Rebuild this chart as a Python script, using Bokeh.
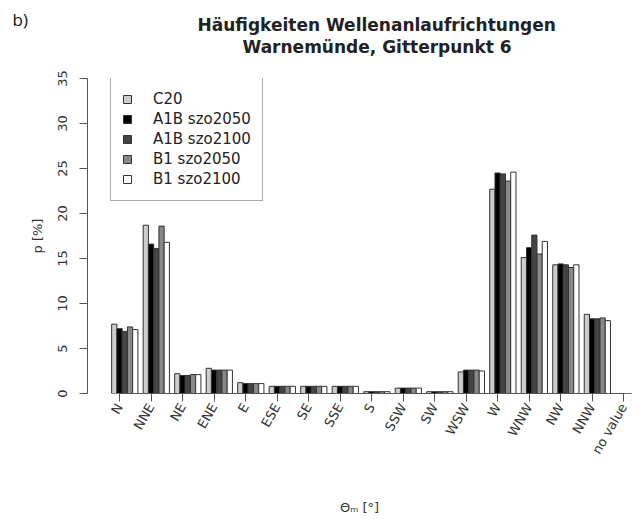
import math
from bokeh.plotting import figure
from bokeh.models import Range1d, FixedTicker, Legend, LegendItem, Title
from bokeh.embed import file_html
from bokeh.resources import INLINE

directions = ["N", "NNE", "NE", "ENE", "E", "ESE", "SE", "SSE", "S", "SSW",
              "SW", "WSW", "W", "WNW", "NW", "NNW", "no value"]
series_names = ["C20", "A1B szo2050", "A1B szo2100", "B1 szo2050", "B1 szo2100"]
c20 = [7.7, 18.7, 2.2, 2.8, 1.2, 0.8, 0.8, 0.8, 0.2, 0.6, 0.2, 2.4, 22.7, 15.1, 14.3, 8.8, 0]
a1b_2050 = [7.2, 16.6, 2.0, 2.6, 1.1, 0.8, 0.8, 0.8, 0.2, 0.6, 0.2, 2.6, 24.5, 16.2, 14.4, 8.3, 0]
a1b_2100 = [6.9, 16.1, 2.0, 2.6, 1.1, 0.8, 0.8, 0.8, 0.2, 0.6, 0.2, 2.6, 24.4, 17.6, 14.3, 8.3, 0]
b1_2050 = [7.4, 18.6, 2.1, 2.6, 1.1, 0.8, 0.8, 0.8, 0.2, 0.6, 0.2, 2.6, 23.6, 15.5, 14.0, 8.4, 0]
b1_2100 = [7.1, 16.8, 2.1, 2.6, 1.1, 0.8, 0.8, 0.8, 0.2, 0.6, 0.2, 2.5, 24.6, 16.9, 14.3, 8.1, 0]
series_values = [c20, a1b_2050, a1b_2100, b1_2050, b1_2100]
series_colors = ["#cccccc", "#000000", "#444444", "#888888", "#ffffff"]
y_ticks = [0, 5, 10, 15, 20, 25, 30, 35]
title_lines = ["Häufigkeiten Wellenanlaufrichtungen", "Warnemünde, Gitterpunkt 6"]
panel_tag = "b)"

n_ser = len(series_names)
group_w = n_ser + 1  # bars plus one space (R barplot beside=TRUE)
tick_pos = [2.5 + group_w * k for k in range(len(directions))]

p = figure(width=639, height=519, output_backend="svg", toolbar_location=None,
           x_range=Range1d(-3.6, 100.0), y_range=Range1d(0, 35),
           frame_width=544, frame_height=315,
           min_border_left=87, min_border_top=78, min_border_right=8,
           min_border_bottom=126)
p.outline_line_color = None
p.xgrid.visible = False
p.ygrid.visible = False
p.background_fill_color = "white"

items = []
for j, (name, vals, col) in enumerate(zip(series_names, series_values, series_colors)):
    xs = [1.5 + group_w * k + j for k in range(len(vals))]
    r = p.vbar(x=xs, top=vals, bottom=0, width=1.0, fill_color=col,
               line_color="#333333", line_width=1)
    items.append(LegendItem(label=name, renderers=[r]))

legend = Legend(items=items, location=(23, 192), padding=11, spacing=0,
                glyph_width=10, glyph_height=10, label_height=20,
                label_standoff=21, label_text_font="DejaVu Sans",
                label_text_font_size="15px", label_text_color="#222222",
                border_line_color="#555555", border_line_width=1,
                background_fill_color="white", background_fill_alpha=1.0,
                margin=0)
p.add_layout(legend, "center")

ax = p.xaxis[0]
ax.ticker = FixedTicker(ticks=tick_pos)
ax.major_label_overrides = {t: d for t, d in zip(tick_pos, directions)}
ax.bounds = (tick_pos[0], tick_pos[-1])
ax.major_label_orientation = math.pi / 3
ax.minor_tick_line_color = None
ax.major_tick_out = 8
ax.major_tick_in = 0
ax.major_label_standoff = 3
ax.axis_line_color = "#555555"
ax.major_tick_line_color = "#555555"
ax.major_label_text_font = "DejaVu Sans"
ax.major_label_text_font_size = "13px"
ax.major_label_text_color = "#333333"
ax.axis_label = "Θₘ [°]"
ax.axis_label_text_font = "DejaVu Sans"
ax.axis_label_text_font_size = "13px"
ax.axis_label_text_font_style = "normal"
ax.axis_label_text_color = "#333333"
ax.axis_label_standoff = 37

ay = p.yaxis[0]
ay.ticker = FixedTicker(ticks=y_ticks)
ay.bounds = (y_ticks[0], y_ticks[-1])
ay.major_label_orientation = "parallel"
ay.minor_tick_line_color = None
ay.major_tick_out = 8
ay.major_tick_in = 0
ay.major_label_standoff = 13
ay.axis_line_color = "#555555"
ay.major_tick_line_color = "#555555"
ay.major_label_text_font = "DejaVu Sans"
ay.major_label_text_font_size = "13px"
ay.major_label_text_color = "#333333"
ay.axis_label = "p [%]"
ay.axis_label_text_font = "DejaVu Sans"
ay.axis_label_text_font_size = "13px"
ay.axis_label_text_font_style = "normal"
ay.axis_label_text_color = "#333333"
ay.axis_label_standoff = 10

# titles: first added is closest to the frame
p.add_layout(Title(text=title_lines[1], align="left", offset=155,
                   text_font="DejaVu Sans",
                   text_font_style="bold", text_font_size="17px",
                   text_color="#222222", standoff=44), "above")
p.add_layout(Title(text=title_lines[0], align="left", offset=110,
                   text_font="DejaVu Sans",
                   text_font_style="bold", text_font_size="17px",
                   text_color="#222222", standoff=-44), "above")
p.add_layout(Title(text=panel_tag, align="left", offset=-75, text_font="Open Sans",
                   text_font_style="normal", text_font_size="17px",
                   text_color="#111111", standoff=-36), "above")

open("out.html", "w").write(file_html(p, INLINE))
